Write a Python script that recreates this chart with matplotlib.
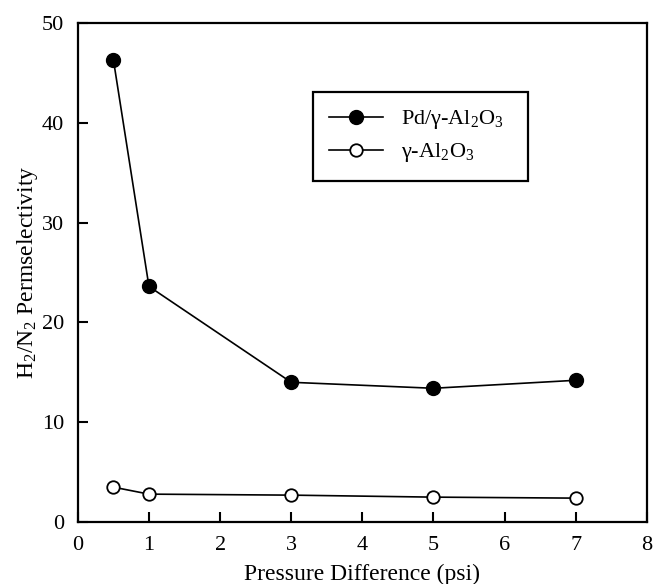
import numpy as np
import matplotlib
matplotlib.use('Agg')
import matplotlib.pyplot as plt

# data
pressure = [0.5, 1, 3, 5, 7]
pd_alumina = [46.3, 23.6, 14.0, 13.4, 14.2]
alumina = [3.5, 2.8, 2.7, 2.5, 2.4]

plt.rcParams['font.family'] = ['Liberation Serif', 'DejaVu Serif']
plt.rcParams['mathtext.fontset'] = 'custom'
plt.rcParams['mathtext.rm'] = 'Liberation Serif'
plt.rcParams['mathtext.default'] = 'regular'

fig = plt.figure(figsize=(6.54, 5.84), dpi=100)
ax = fig.add_axes([0.119, 0.106, 0.870, 0.855])

ax.plot(pressure, pd_alumina, color='black', lw=1.2, marker='o', ms=10,
        mfc='black', mec='black', label='Pd/γ-Al$_2$O$_3$')
ax.plot(pressure, alumina, color='black', lw=1.2, marker='o', ms=9,
        mfc='white', mec='black', mew=1.3, label='γ-Al$_2$O$_3$')

ax.set_xlim(0, 8)
ax.set_ylim(0, 50)
ax.set_xticks(np.arange(0, 9, 1))
ax.set_yticks(np.arange(0, 51, 10))
ax.tick_params(direction='in', length=7, width=1.5, labelsize=16, pad=10)
for s in ax.spines.values():
    s.set_linewidth(1.6)

ax.set_xlabel('Pressure Difference (psi)', fontsize=17, labelpad=6)
ax.set_ylabel('H$_2$/N$_2$ Permselectivity', fontsize=17, labelpad=1)

#legend box spans the same width as in the reference
leg = ax.legend(loc='upper left', bbox_to_anchor=(0.413, 0.691, 0.378, 0.171),
                mode='expand', fontsize=16,
                frameon=True, fancybox=False, edgecolor='black', framealpha=1,
                handlelength=2.4, handletextpad=0.8, borderpad=0.75,
                labelspacing=0.45, borderaxespad=0)
leg.get_frame().set_linewidth(1.6)

fig.savefig('out.png', dpi=100)
